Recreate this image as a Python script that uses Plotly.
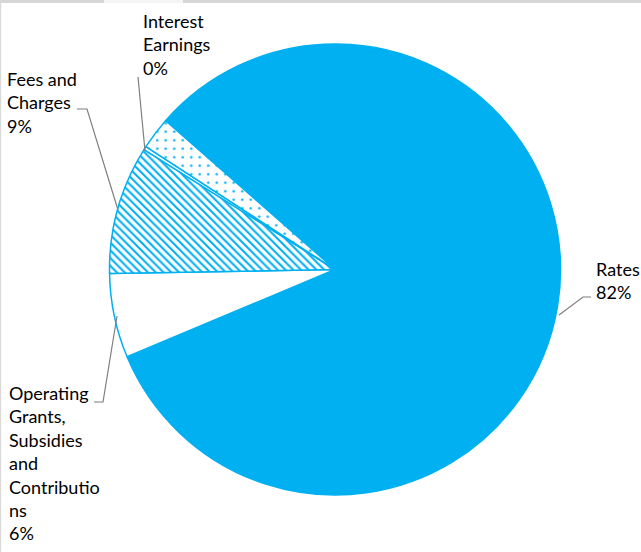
import plotly.graph_objects as go

# Data (clockwise from the Rates slice start)
categories = ["Rates", "Operating Grants, Subsidies and Contributions",
              "Fees and Charges", "Interest Earnings", "Other"]
values = [82.2, 6.05, 9.2, 0.25, 2.3]
fill_colors = ["#00B0F0", "#FFFFFF", "#FFFFFF", "#FFFFFF", "#FFFFFF"]
patterns = ["", "", "\\", "", "."]

label_texts = {
    "Rates": "Rates<br>82%",
    "Operating Grants, Subsidies and Contributions":
        "Operating<br>Grants,<br>Subsidies<br>and<br>Contributio<br>ns<br>6%",
    "Fees and Charges": "Fees and<br>Charges<br>9%",
    "Interest Earnings": "Interest<br>Earnings<br>0%",
}

W, H = 641, 552
BLUE = "#00B0F0"
GREY = "#7F7F7F"

cx, cy, r = 335, 269.5, 225.5

fig = go.Figure(go.Pie(
    labels=categories,
    values=values,
    sort=False,
    direction="clockwise",
    rotation=-48.7,
    textinfo="none",
    hoverinfo="label+percent",
    showlegend=False,
    marker=dict(
        colors=fill_colors,
        line=dict(color=BLUE, width=1.5),
        pattern=dict(shape=patterns, fgcolor=BLUE, bgcolor=fill_colors,
                     size=[8, 8, 5.5, 8, 8.5], solidity=[0.3, 0.3, 0.38, 0.3, 0.07],
                     fillmode="replace"),
    ),
    domain=dict(x=[(cx - r) / W, (cx + r) / W],
                y=[(H - cy - r) / H, (H - cy + r) / H]),
))

def px(x):
    return x / W

def py(y):
    return 1 - y / H

# label positions (pixel top-left)
label_pos = {
    "Rates": (594, 256),
    "Operating Grants, Subsidies and Contributions": (7, 380),
    "Fees and Charges": (5, 66),
    "Interest Earnings": (141, 8),
}

annotations = []
for cat, txt in label_texts.items():
    x, y = label_pos[cat]
    annotations.append(dict(
        x=px(x), y=py(y), xref="paper", yref="paper",
        xanchor="left", yanchor="top", align="left",
        text=txt, showarrow=False,
        font=dict(family="Lato", size=18, color="#000000"),
    ))

leaders = [
    [(559, 315), (583, 297), (591, 297)],
    [(117, 316), (103, 402), (94, 402)],
    [(77, 109), (87, 109), (118, 210)],
    [(138, 77), (145, 151)],
]
shapes = []
for pts in leaders:
    path = "M " + " L ".join(f"{px(x)},{py(y)}" for x, y in pts)
    shapes.append(dict(type="path", xref="paper", yref="paper", path=path,
                       line=dict(color=GREY, width=1.2)))

# light grey frame remnants at top and left edges of the picture
shapes.append(dict(type="rect", xref="paper", yref="paper", layer="below",
                   x0=0, x1=1, y0=py(3), y1=1, fillcolor="#D6D6D6", line_width=0))
shapes.append(dict(type="rect", xref="paper", yref="paper", layer="below",
                   x0=px(104), x1=px(183), y0=py(3), y1=1, fillcolor="#F4F4F4", line_width=0))
shapes.append(dict(type="rect", xref="paper", yref="paper", layer="below",
                   x0=0, x1=px(1.2), y0=0, y1=1, fillcolor="#D9D9D9", line_width=0))

fig.update_layout(
    width=W, height=H,
    margin=dict(l=0, r=0, t=0, b=0),
    paper_bgcolor="#FFFFFF",
    plot_bgcolor="#FFFFFF",
    annotations=annotations,
    shapes=shapes,
)

fig.write_html("out.html")
